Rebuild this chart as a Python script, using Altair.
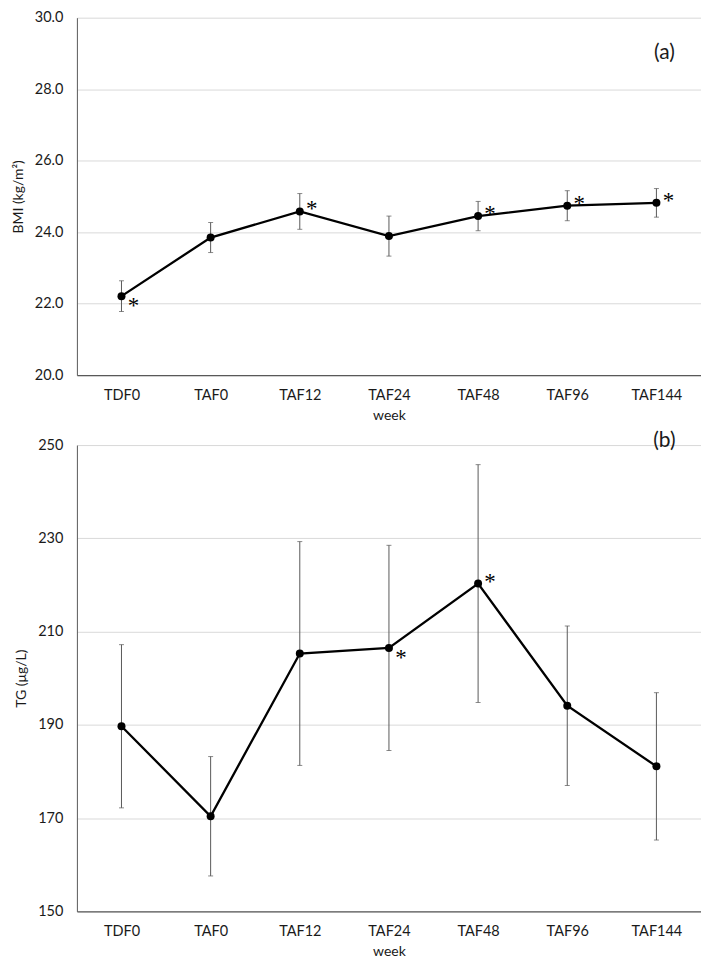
import altair as alt
import pandas as pd

weeks = ["TDF0", "TAF0", "TAF12", "TAF24", "TAF48", "TAF96", "TAF144"]

bmi_mean = [22.21, 23.85, 24.58, 23.89, 24.45, 24.74, 24.82]
bmi_err = [0.43, 0.42, 0.50, 0.56, 0.41, 0.42, 0.40]
bmi_star = ["below", "", "above", "", "above", "above", "above"]
bmi_ticks = [20, 22, 24, 26, 28, 30]

tg_mean = [189.7, 170.4, 205.3, 206.5, 220.3, 194.1, 181.1]
tg_err = [17.5, 12.8, 24.0, 22.0, 25.5, 17.1, 15.8]
tg_star = ["", "", "", "below", "above", "", ""]
tg_ticks = [150, 170, 190, 210, 230, 250]

FONT = "Lato"
AX = "#595959"
TXT = "#1a1a1a"


def panel(mean, err, star, ticks, fmt, ytitle, label, label_y, height):
    df = pd.DataFrame({
        "week": weeks,
        "mean": mean,
        "lo": [m - e for m, e in zip(mean, err)],
        "hi": [m + e for m, e in zip(mean, err)],
        "star": star,
    })
    xs = alt.Scale(type="point", padding=0.5, domain=weeks)
    xax = alt.Axis(title="week", labelAngle=0, ticks=False, grid=False,
                   domainColor=AX, domainWidth=1.3, labelPadding=13, titlePadding=7)
    ys = alt.Scale(domain=[ticks[0], ticks[-1]], nice=False, zero=False)
    yax = alt.Axis(title=ytitle, values=ticks, format=fmt, ticks=False,
                   gridColor="#d9d9d9", domainColor=AX, labelPadding=14, titlePadding=9)
    x = alt.X("week:N", scale=xs, axis=xax, sort=weeks)
    base = alt.Chart(df)
    rules = base.mark_rule(color=AX, strokeWidth=1).encode(
        x=x, y=alt.Y("lo:Q", scale=ys, axis=yax), y2="hi:Q")
    cap_lo = base.mark_tick(color=AX, size=5, thickness=1).encode(
        x=x, y=alt.Y("lo:Q", scale=ys, axis=yax))
    cap_hi = base.mark_tick(color=AX, size=5, thickness=1).encode(
        x=x, y=alt.Y("hi:Q", scale=ys, axis=yax))
    line = base.mark_line(color="black", strokeWidth=2.3).encode(
        x=x, y=alt.Y("mean:Q", scale=ys, axis=yax))
    pts = base.mark_circle(color="black", size=64, opacity=1).encode(
        x=x, y=alt.Y("mean:Q", scale=ys, axis=yax))
    star_up = base.transform_filter(alt.datum.star == "above").mark_text(
        text="*", font="Liberation Serif", fontSize=23, dx=12, dy=5,
        baseline="alphabetic", color="black").encode(
        x=x, y=alt.Y("mean:Q", scale=ys, axis=yax))
    star_dn = base.transform_filter(alt.datum.star == "below").mark_text(
        text="*", font="Liberation Serif", fontSize=23, dx=12, dy=17,
        baseline="alphabetic", color="black").encode(
        x=x, y=alt.Y("mean:Q", scale=ys, axis=yax))
    lab = alt.Chart(pd.DataFrame({"t": [label]})).mark_text(
        font=FONT, fontSize=21, dx=8, baseline="middle", color=TXT).encode(
        x=alt.X(datum="TAF144", scale=xs, axis=xax),
        y=alt.Y(datum=label_y, scale=ys, axis=yax),
        text="t:N")
    return alt.layer(rules, cap_lo, cap_hi, line, pts, star_up, star_dn, lab).properties(
        width=625, height=height)


top = panel(bmi_mean, bmi_err, bmi_star, bmi_ticks, ".1f", "BMI (kg/m²)", "(a)", 29.0, 358)
bottom = panel(tg_mean, tg_err, tg_star, tg_ticks, "d", "TG (μg/L)", "(b)", 250.8, 467)

chart = alt.vconcat(top, bottom, spacing=7).properties(
    padding={"top": 1, "left": 3, "right": 0, "bottom": 0}
).configure_view(stroke=None).configure_axis(
    labelFont=FONT, labelFontSize=14.5, labelColor=TXT,
    titleFont=FONT, titleFontSize=14, titleFontWeight="normal", titleColor=TXT,
)

chart.save("out.html", embed_options={"renderer": "svg", "actions": False})
